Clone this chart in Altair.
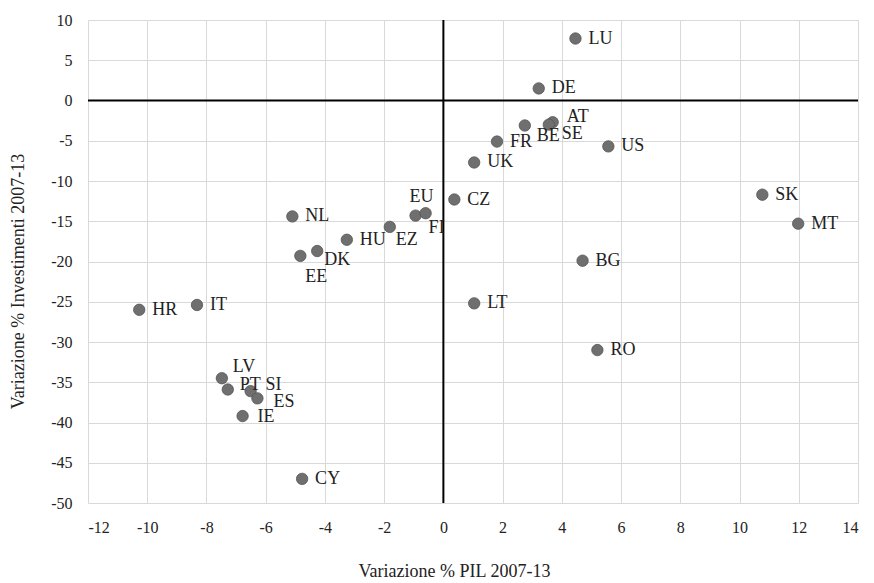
import altair as alt
import pandas as pd

codes = ["LU", "DE", "AT", "BE", "SE", "FR", "US", "UK", "CZ", "SK", "MT", "BG", "LT", "RO",
         "EU", "FI", "EZ", "HU", "NL", "DK", "EE", "HR", "IT",
         "LV", "PT", "SI", "ES", "IE", "CY"]
pil = [4.46, 3.22, 3.69, 2.75, 3.56, 1.81, 5.57, 1.04, 0.37, 10.77, 11.98, 4.70, 1.04, 5.20,
       -0.94, -0.60, -1.81, -3.26, -5.10, -4.26, -4.83, -10.27, -8.32,
       -7.48, -7.28, -6.51, -6.28, -6.78, -4.77]
inv = [7.7, 1.5, -2.7, -3.1, -3.0, -5.1, -5.7, -7.7, -12.3, -11.7, -15.3, -19.9, -25.2, -31.0,
       -14.3, -14.0, -15.7, -17.3, -14.4, -18.7, -19.3, -26.0, -25.4,
       -34.5, -35.9, -36.1, -37.0, -39.2, -47.0]

x_ticks = list(range(-12, 15, 2))
y_ticks = list(range(-50, 11, 5))

df = pd.DataFrame({"code": codes, "pil": pil, "inv": inv})

# label placement (pixel offsets), layout only
DEFAULT_OFF = (13, 0)
LABEL_OFFSETS = {
    "AT": (14, -5), "BE": (12, 11), "SE": (13, 9),
    "EU": (-6, -19), "FI": (3, 15), "EZ": (6, 13),
    "DK": (7, 9), "EE": (5, 21),
    "LV": (11, -11), "PT": (12, -4), "SI": (15, -6), "ES": (16, 4), "IE": (15, 1),
}

FONT = "Liberation Serif"
W, H = 770, 483

xs = alt.Scale(domain=[-12, 14], nice=False, zero=False)
ys = alt.Scale(domain=[-50, 10], nice=False, zero=False)

base = alt.Chart(df)

x_enc = alt.X("pil:Q", scale=xs, title="Variazione %  PIL 2007-13",
              axis=alt.Axis(values=x_ticks, grid=True, gridColor="#d9d9d9", domain=False,
                            ticks=False, labelPadding=16, labelFont=FONT, labelFontSize=16,
                            labelColor="#222", labelExpr="'' + datum.value",
                            titleFont=FONT, titleFontSize=18,
                            titleFontWeight="normal", titleColor="#222",
                            titleX=366, titleY=68, titleBaseline="middle"))
y_enc = alt.Y("inv:Q", scale=ys, title="Variazione  % Investimenti 2007-13",
              axis=alt.Axis(values=y_ticks, grid=True, gridColor="#d9d9d9", domain=False,
                            ticks=False, labelPadding=16, labelFont=FONT, labelFontSize=16,
                            labelColor="#222", labelExpr="'' + datum.value",
                            titleFont=FONT, titleFontSize=18,
                            titleFontWeight="normal", titleColor="#222",
                            titleX=-70, titleY=261, titleBaseline="middle"))

points = base.mark_circle(size=130, color="#6f6f6f", opacity=1, stroke="#555",
                          strokeWidth=0.8).encode(x=x_enc, y=y_enc)

zero_df = pd.DataFrame({"v": [0]})
vline = alt.Chart(zero_df).mark_rule(color="black", strokeWidth=2).encode(
    x=alt.X("v:Q", scale=xs))
hline = alt.Chart(zero_df).mark_rule(color="black", strokeWidth=2).encode(
    y=alt.Y("v:Q", scale=ys))

groups = {}
for c in codes:
    groups.setdefault(LABEL_OFFSETS.get(c, DEFAULT_OFF), []).append(c)

label_layers = []
for (dx, dy), members in groups.items():
    label_layers.append(
        base.transform_filter(alt.FieldOneOfPredicate(field="code", oneOf=members))
        .mark_text(align="left", baseline="middle", dx=dx, dy=dy, font=FONT,
                   fontSize=18, color="#222")
        .encode(x=alt.X("pil:Q", scale=xs), y=alt.Y("inv:Q", scale=ys), text="code:N")
    )

chart = alt.layer(points, vline, hline, *label_layers).properties(
    width=W, height=H,
    autosize=alt.AutoSizeParams(type="none"),
    padding={"left": 80, "top": 12, "right": 8, "bottom": 76},
).configure_view(stroke=None)

chart.save("out.html", embed_options={"renderer": "svg", "actions": False})
